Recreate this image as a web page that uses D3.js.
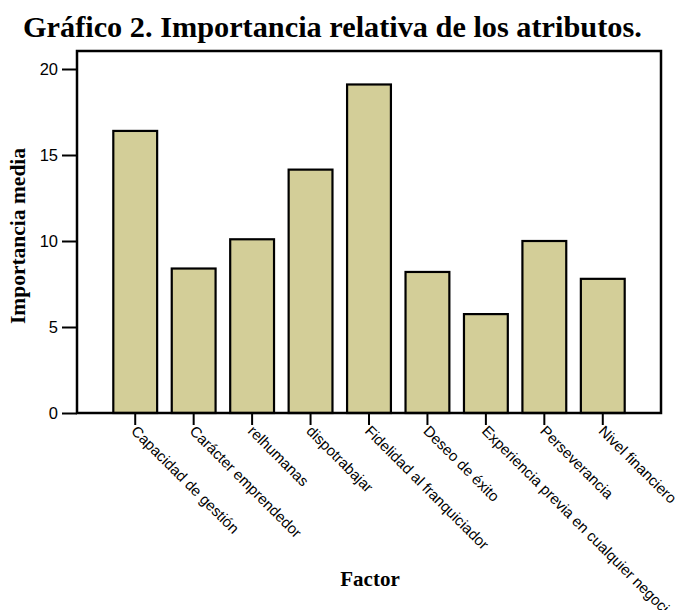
<!DOCTYPE html>
<html><head><meta charset="utf-8">
<script src="https://cdn.jsdelivr.net/npm/d3@7"></script>
<style>body{margin:0;background:#fff}svg{display:block}</style>
</head><body>
<script>
const categories = ["Capacidad de gestión","Carácter emprendedor","relhumanas","dispotrabajar","Fidelidad al franquiciador","Deseo de éxito","Experiencia previa en cualquier negocio","Perseverancia","Nivel financiero"];
const values = [16.4, 8.4, 10.1, 14.15, 19.1, 8.2, 5.75, 10.0, 7.8];
const yTicks = [0, 5, 10, 15, 20];
const title = "Gráfico 2. Importancia relativa de los atributos.";
const yTitle = "Importancia media";
const xTitle = "Factor";

const W = 678, H = 610;
const frame = {left: 77, right: 661, top: 51, bottom: 413};
const svg = d3.select("body").append("svg").attr("width", W).attr("height", H);

const x = d3.scaleBand().domain(categories).range([106, 632]).paddingInner(0.25).paddingOuter(0.125);
const y = d3.scaleLinear().domain([0, 20]).range([frame.bottom, 69]);

svg.append("text").attr("x", 23).attr("y", 37)
  .attr("font-family", "Liberation Serif, Times New Roman, serif").attr("font-weight", "bold")
  .attr("font-size", 30.3).attr("fill", "#000").text(title);

// bars
svg.append("g").selectAll("rect").data(values).join("rect")
  .attr("x", (d, i) => x(categories[i]))
  .attr("y", d => y(d))
  .attr("width", x.bandwidth())
  .attr("height", d => y(0) - y(d))
  .attr("fill", "#d3ce98").attr("stroke", "#000").attr("stroke-width", 2.2);

// frame
svg.append("rect").attr("x", frame.left).attr("y", frame.top)
  .attr("width", frame.right - frame.left).attr("height", frame.bottom - frame.top)
  .attr("fill", "none").attr("stroke", "#000").attr("stroke-width", 2.5);

// y axis
const yAxis = svg.append("g").attr("transform", `translate(${frame.left},0)`)
  .call(d3.axisLeft(y).tickValues(yTicks).tickSize(15).tickPadding(4).tickFormat(d3.format("d")));
yAxis.select(".domain").remove();
yAxis.selectAll("line").attr("stroke", "#000").attr("stroke-width", 2);
yAxis.selectAll("text").attr("font-family", "Liberation Sans, Arial, sans-serif").attr("font-size", 16.5).attr("fill", "#000");

// x axis
const xAxis = svg.append("g").attr("transform", `translate(0,${frame.bottom})`)
  .call(d3.axisBottom(x).tickSize(12).tickPadding(0));
xAxis.select(".domain").remove();
xAxis.selectAll("line").attr("stroke", "#000").attr("stroke-width", 2);
xAxis.selectAll("text")
  .attr("font-family", "Liberation Sans, Arial, sans-serif").attr("font-size", 15).attr("fill", "#000")
  .attr("text-anchor", "start").attr("dy", null).attr("y", 0)
  .attr("transform", "translate(-5,19) rotate(45)");

svg.append("text").attr("transform", `translate(25,236) rotate(-90)`)
  .attr("text-anchor", "middle")
  .attr("font-family", "Liberation Serif, Times New Roman, serif").attr("font-weight", "bold")
  .attr("font-size", 21.5).attr("fill", "#000").text(yTitle);

svg.append("text").attr("x", 370).attr("y", 586).attr("text-anchor", "middle")
  .attr("font-family", "Liberation Serif, Times New Roman, serif").attr("font-weight", "bold")
  .attr("font-size", 21).attr("fill", "#000").text(xTitle);
</script>
</body></html>
